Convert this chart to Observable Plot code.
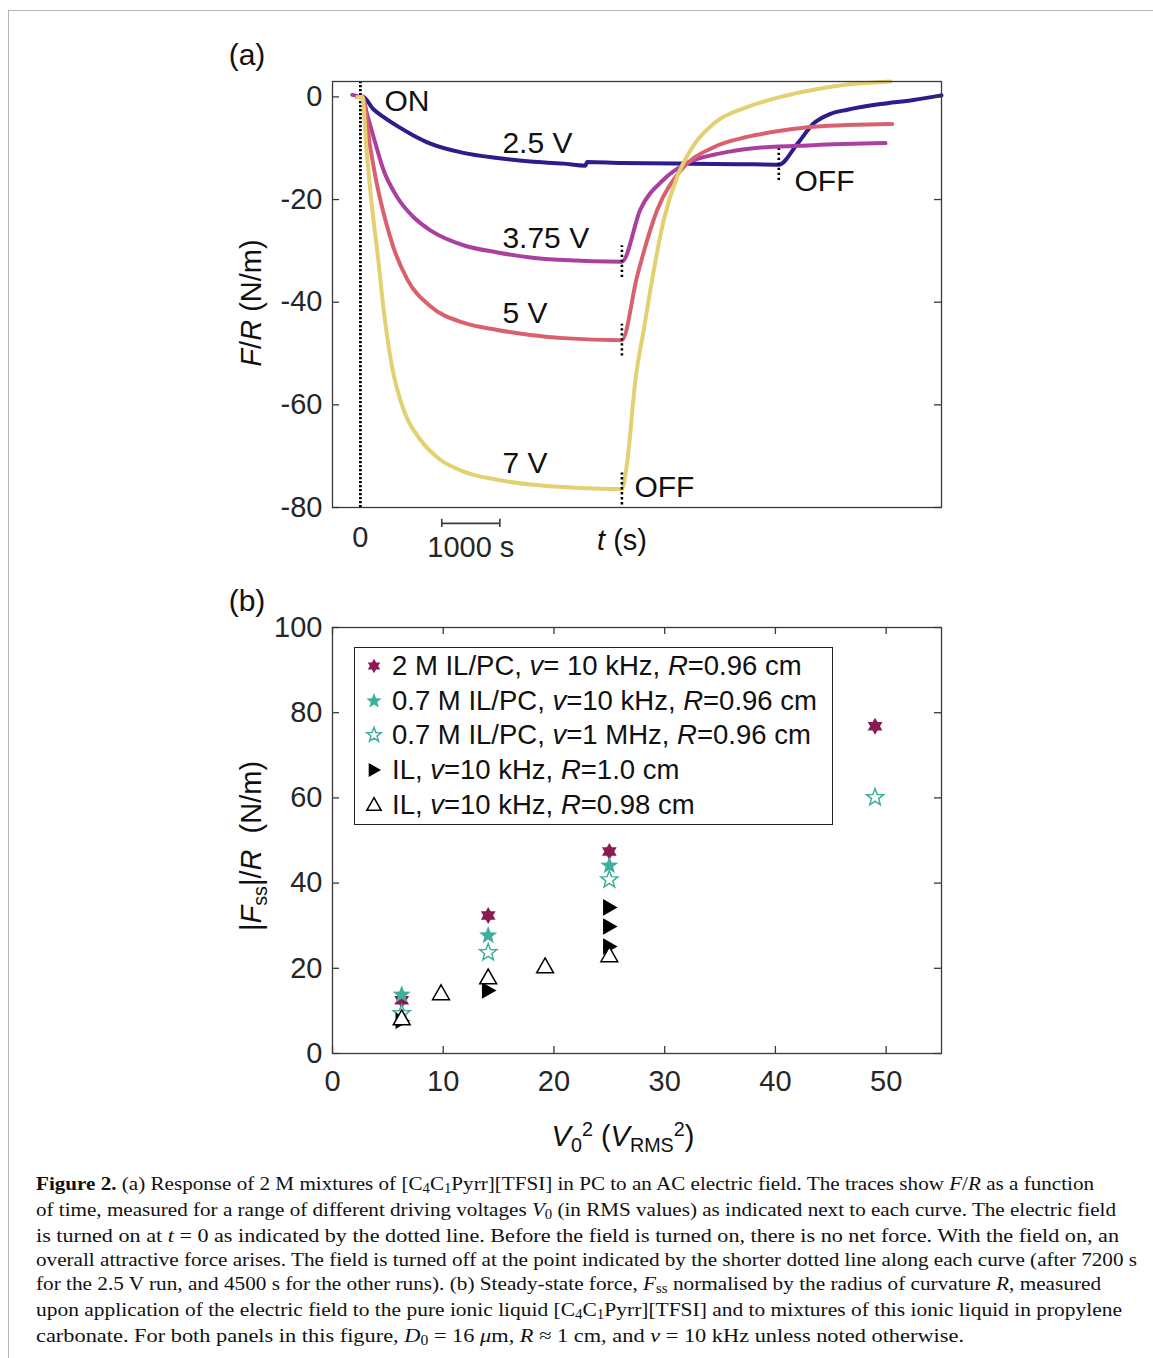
<!DOCTYPE html>
<html><head><meta charset="utf-8">
<script src="https://cdn.jsdelivr.net/npm/d3@7"></script>
<script src="https://cdn.jsdelivr.net/npm/@observablehq/plot@0.6"></script>
<style>
body{margin:0;background:#fff;}
#page{position:relative;width:1153px;height:1358px;overflow:hidden;background:#fff;font-family:"Liberation Sans",Arial,sans-serif;color:#222;}
#border{position:absolute;left:8px;top:10px;width:1145px;height:1348px;border-top:1px solid #b4b4b4;border-left:1px solid #b4b4b4;}
.abs{position:absolute;white-space:nowrap;line-height:1;}
.ctr{transform:translate(-50%,-50%);}
.rot{transform:translate(-50%,-50%) rotate(-90deg);}
.sub{font-size:0.68em;position:relative;top:0.28em;}
.sup{font-size:0.68em;position:relative;top:-0.5em;}
#legend{position:absolute;left:354px;top:647px;width:477px;height:176px;border:1.4px solid #222;background:#fff;}
.lrow{position:absolute;left:0;height:30px;white-space:nowrap;font-size:27.5px;line-height:30px;color:#111;}
.lrow svg{position:absolute;left:6px;top:2px;}
.lrow span{position:absolute;left:37px;top:0;}
#caption{position:absolute;left:36px;top:1172px;font-family:"Liberation Serif","Times New Roman",serif;font-size:19.5px;line-height:24px;color:#111;}
#caption div{white-space:nowrap;}
#caption div span.line{display:inline-block;transform-origin:0 0;}
#caption .cs{font-size:0.7em;position:relative;top:0.25em;}
</style></head>
<body><div id="page"><div id="border"></div></div>
<script>
// ---------- Panel (a) data: F/R (N/m) vs t (s) ----------
const traceSeries = ["2.5 V", "3.75 V", "5 V", "7 V"];
const traceColors = ["#2c1c8c", "#a9409f", "#d9616f", "#e3d070"];

const t_25V = [0, 34, 224, 396, 637, 912, 1205, 1773, 2358, 2926, 3494, 3873, 3900, 4500, 5500, 6500, 7200, 7522, 7797, 8090, 8382, 8950, 9518, 10000];
const F_25V = [0, 0.1, -2.4, -3.9, -5.7, -7.5, -9.1, -10.9, -11.9, -12.6, -13.0, -13.4, -12.7, -12.9, -13.0, -13.1, -13.2, -9.1, -5.2, -3.3, -2.5, -1.4, -0.6, 0.3];

const t_375V = [-140, -60, 0, 34, 115, 229, 396, 637, 912, 1205, 1773, 2358, 2926, 3494, 4500, 4819, 5220, 5622, 6196, 6764, 7797, 9036];
const F_375V = [0.4, 0.2, 0, 0, -3.4, -7.9, -14.2, -19.6, -23.4, -26.0, -28.9, -30.3, -31.3, -31.8, -32.1, -21.9, -16.1, -12.9, -11.0, -10.0, -9.4, -9.0];

const t_5V = [-60, 0, 34, 172, 293, 430, 568, 809, 1205, 1773, 2358, 2926, 3494, 4500, 4761, 5106, 5508, 6081, 6655, 7229, 7803, 9150];
const F_5V = [0, 0, 0, -10.0, -17.5, -24.0, -29.3, -35.6, -40.8, -44.0, -45.4, -46.4, -47.0, -47.4, -35.0, -22.1, -14.4, -9.8, -7.8, -6.6, -5.8, -5.3];

const t_7V = [-50, 0, 34, 103, 172, 241, 300, 401, 545, 745, 1033, 1377, 1778, 2352, 2926, 3494, 4500, 4590, 4733, 4876, 5019, 5220, 5450, 5680, 6081, 6655, 7229, 7803, 8382, 9122];
const F_7V = [0, 0, 0, -10.0, -18.5, -25.5, -31.0, -41.5, -52.6, -61.0, -66.8, -70.7, -73.0, -74.6, -75.5, -76.0, -76.4, -71.3, -55.1, -45.4, -35.7, -24.0, -15.6, -10.4, -5.2, -2.0, 0, 1.4, 2.4, 3.0];

const offT = [7200, 4500, 4500, 4500]; // field switched off (s)
const yTicksA = [-80, -60, -40, -20, 0];
const xTicksA = [0];
const annotText = ["ON", "2.5 V", "3.75 V", "5 V", "7 V", "OFF", "OFF"];
const annotT = [413, 2444, 2444, 2444, 2444, 4716, 7470];
const annotF = [-0.8, -9.1, -27.6, -42.1, -71.5, -76.1, -16.5];
const scaleBarT = [1400, 2400]; // 1000 s scale bar
const scaleBarF = -83.1;
const scaleBarLabel = "1000 s";

// ---------- Panel (b) data: |Fss|/R (N/m) vs V0^2 (V_RMS^2) ----------
const v2_2M = [6.25, 14.06, 25, 49];
const fss_2M = [12.5, 32.4, 47.4, 76.8];
const v2_07M_10k = [6.25, 14.06, 25];
const fss_07M_10k = [13.8, 27.7, 44.1];
const v2_07M_1M = [6.25, 14.06, 25, 49];
const fss_07M_1M = [9.4, 23.7, 40.8, 60.1];
const v2_IL_R10 = [6.25, 14.06, 25, 25, 25];
const fss_IL_R10 = [7.7, 14.8, 34.3, 29.8, 25.1];
const v2_IL_R098 = [6.25, 9.8, 14.06, 19.2, 25];
const fss_IL_R098 = [8.2, 14.1, 17.8, 20.4, 23.0];
const xTicksB = [0, 10, 20, 30, 40, 50];
const yTicksB = [0, 20, 40, 60, 80, 100];
const legendLabels = [
  "2 M IL/PC, <i>v</i>= 10 kHz, <i>R</i>=0.96 cm",
  "0.7 M IL/PC, <i>v</i>=10 kHz, <i>R</i>=0.96 cm",
  "0.7 M IL/PC, <i>v</i>=1 MHz, <i>R</i>=0.96 cm",
  "IL, <i>v</i>=10 kHz, <i>R</i>=1.0 cm",
  "IL, <i>v</i>=10 kHz, <i>R</i>=0.98 cm"
];

// ---------- symbols ----------
function poly(c, pts) { pts.forEach(([x, y], i) => i ? c.lineTo(x, y) : c.moveTo(x, y)); c.closePath(); }
function starPts(n, R, r) { const p = []; for (let i = 0; i < 2 * n; i++) { const a = i * Math.PI / n - Math.PI / 2, rr = i % 2 ? r : R; p.push([rr * Math.cos(a), rr * Math.sin(a)]); } return p; }
const hexagram = {draw(c, s) { const R = Math.sqrt(s / Math.PI); poly(c, starPts(6, R, R / Math.sqrt(3))); }};
const pentagram = {draw(c, s) { const R = Math.sqrt(s / Math.PI); poly(c, starPts(5, R, R * 0.42)); }};
const triUp = {draw(c, s) { const R = Math.sqrt(s / Math.PI); poly(c, [[0, -R], [R * 0.98, R * 0.72], [-R * 0.98, R * 0.72]]); }};
const triRight = {draw(c, s) { const R = Math.sqrt(s / Math.PI); poly(c, [[R, 0], [-R * 0.75, -R], [-R * 0.75, R]]); }};

const c2M = "#8a1a52", cTeal = "#3fae9c";
const pointStyles = [
  {sym: hexagram, r: 8.5, fill: c2M, stroke: "none"},
  {sym: pentagram, r: 9.5, fill: cTeal, stroke: "none"},
  {sym: pentagram, r: 9, fill: "#fff", stroke: cTeal, sw: 1.5},
  {sym: triRight, r: 8.3, fill: "#000", stroke: "none"},
  {sym: triUp, r: 8.6, fill: "#fff", stroke: "#000", sw: 1.5}
];

// ---------- build tables ----------
const tA = [t_25V, t_375V, t_5V, t_7V], fA = [F_25V, F_375V, F_5V, F_7V];
const traces = traceSeries.flatMap((s, i) => tA[i].map((t, j) => ({series: s, t, v: fA[i][j]})));
const offs = traceSeries.map((s, i) => ({series: s, t: offT[i], v: fA[i][tA[i].indexOf(offT[i])]}));
const annots = annotText.map((text, i) => ({text, t: annotT[i], v: annotF[i]}));

const ptsX = [v2_2M, v2_07M_10k, v2_07M_1M, v2_IL_R10, v2_IL_R098];
const ptsY = [fss_2M, fss_07M_10k, fss_07M_1M, fss_IL_R10, fss_IL_R098];
const pointSets = ptsX.map((xs, i) => xs.map((x, j) => ({x, y: ptsY[i][j]})));

const font = "Liberation Sans, Arial, sans-serif";
const axisCol = "#3a3a3a", labCol = "#262626";
const page = document.getElementById("page");

function place(el, top) { el.style.position = "absolute"; el.style.left = "0px"; el.style.top = top + "px"; page.appendChild(el); }

// ---------- Panel (a) ----------
const W = 1153, frameW = 609, frameH = 426;
const plotA = Plot.plot({
  width: W, height: 570, marginLeft: 332, marginRight: 212, marginTop: 81, marginBottom: 63,
  x: {domain: [-480, 10000], axis: null},
  y: {domain: [-80, 3], axis: null},
  color: {domain: traceSeries, range: traceColors},
  style: {fontFamily: font, fontSize: "29px", background: "transparent", overflow: "visible", color: labCol},
  marks: [
    Plot.ruleX(xTicksA, {stroke: "#000", strokeWidth: 2.8, strokeDasharray: "2.2,1.8"}),
    Plot.line(traces, {x: "t", y: "v", z: "series", stroke: "series", strokeWidth: 4, curve: "monotone-x", strokeLinejoin: "round"}),
    Plot.ruleX(offs, {x: "t", y1: d => d.v - 3.1, y2: d => d.v + 3.1, stroke: "#000", strokeWidth: 2.6, strokeDasharray: "2.4,2.6"}),
    Plot.frame({stroke: axisCol, strokeWidth: 1.3}),
    Plot.tickY(yTicksA, {y: d => d, insetRight: frameW - 7, stroke: axisCol, strokeWidth: 1.3}),
    Plot.tickY(yTicksA, {y: d => d, insetLeft: frameW - 7, stroke: axisCol, strokeWidth: 1.3}),
    Plot.axisY({ticks: yTicksA, tickSize: 0, tickPadding: 10, label: null, tickFormat: d => String(d), fontSize: 29, fill: labCol}),
    Plot.axisX({ticks: xTicksA, tickSize: 0, tickPadding: 19, label: null, tickFormat: d => String(d), fontSize: 29, fill: labCol}),
    Plot.ruleY([scaleBarF], {x1: scaleBarT[0], x2: scaleBarT[1], stroke: axisCol, strokeWidth: 1.6}),
    Plot.ruleX(scaleBarT, {y1: scaleBarF - 0.8, y2: scaleBarF + 0.8, stroke: axisCol, strokeWidth: 1.6}),
    Plot.text([scaleBarLabel], {x: (scaleBarT[0] + scaleBarT[1]) / 2, y: scaleBarF - 4.8, text: d => d, fontSize: 29, fill: labCol}),
    Plot.text(annots, {x: "t", y: "v", text: "text", textAnchor: "start", fontSize: 30, fill: "#111"})
  ]
});
place(plotA, 0);

// ---------- Panel (b) ----------
const plotB = Plot.plot({
  width: W, height: 530, marginLeft: 332, marginRight: 212, marginTop: 47, marginBottom: 57,
  x: {domain: [0, 55], axis: null},
  y: {domain: [0, 100], axis: null},
  style: {fontFamily: font, fontSize: "29px", background: "transparent", overflow: "visible", color: labCol},
  marks: [
    Plot.frame({stroke: axisCol, strokeWidth: 1.3}),
    Plot.tickY(yTicksB, {y: d => d, insetRight: frameW - 7, stroke: axisCol, strokeWidth: 1.3}),
    Plot.tickY(yTicksB, {y: d => d, insetLeft: frameW - 7, stroke: axisCol, strokeWidth: 1.3}),
    Plot.tickX(xTicksB, {x: d => d, insetTop: frameH - 7, stroke: axisCol, strokeWidth: 1.3}),
    Plot.tickX(xTicksB, {x: d => d, insetBottom: frameH - 7, stroke: axisCol, strokeWidth: 1.3}),
    Plot.axisY({ticks: yTicksB, tickSize: 0, tickPadding: 10, label: null, tickFormat: d => String(d), fontSize: 29, fill: labCol}),
    Plot.axisX({ticks: xTicksB, tickSize: 0, tickPadding: 17, label: null, tickFormat: d => String(d), fontSize: 29, fill: labCol}),
    ...pointSets.map((pts, i) => Plot.dot(pts, {x: "x", y: "y", symbol: pointStyles[i].sym, r: pointStyles[i].r,
      fill: pointStyles[i].fill, stroke: pointStyles[i].stroke, strokeWidth: pointStyles[i].sw || 0}))
  ]
});
place(plotB, 580);

// ---------- HTML text ----------
function label(html, x, y, size, cls, extra) {
  const d = document.createElement("div");
  d.className = "abs " + cls;
  d.style.left = x + "px"; d.style.top = y + "px"; d.style.fontSize = size + "px";
  d.style.color = "#111";
  if (extra) Object.assign(d.style, extra);
  d.innerHTML = html;
  page.appendChild(d);
  return d;
}
label("(a)", 247, 55, 30, "ctr");
label("(b)", 247, 601, 30, "ctr");
label("<i>F</i>/<i>R</i> (N/m)", 251, 303, 29, "rot");
label("|<i>F</i><span class='sub'>ss</span>|/<i>R</i>&nbsp; (N/m)", 251, 846, 29, "rot");
label("<i>t</i> (s)", 622, 540, 29, "ctr");
label("<i>V</i><span class='sub'>0</span><span class='sup'>2</span> (<i>V</i><span class='sub'>RMS</span><span class='sup'>2</span>)", 623, 1136, 29, "ctr");

// legend
const leg = document.createElement("div"); leg.id = "legend"; page.appendChild(leg);
function symPath(sym, r) { const p = d3.path(); sym.draw(p, r * r * Math.PI); return p.toString(); }
legendLabels.forEach((txt, i) => {
  const row = document.createElement("div"); row.className = "lrow";
  row.style.top = (3 + i * 34.7) + "px";
  const st = pointStyles[i];
  const r = st.r * 0.85;
  row.innerHTML = `<svg width="26" height="26" viewBox="-13 -13 26 26"><path d="${symPath(st.sym, r)}" fill="${st.fill}" stroke="${st.stroke}" stroke-width="${st.sw || 0}"/></svg><span>${txt}</span>`;
  leg.appendChild(row);
});

// caption
const capLines = [
  "<b>Figure 2.</b> (a) Response of 2 M mixtures of [C<span class='cs'>4</span>C<span class='cs'>1</span>Pyrr][TFSI] in PC to an AC electric field. The traces show <i>F</i>/<i>R</i> as a function",
  "of time, measured for a range of different driving voltages <i>V</i><span class='cs'>0</span> (in RMS values) as indicated next to each curve. The electric field",
  "is turned on at <i>t</i> = 0 as indicated by the dotted line. Before the field is turned on, there is no net force. With the field on, an",
  "overall attractive force arises. The field is turned off at the point indicated by the shorter dotted line along each curve (after 7200 s",
  "for the 2.5 V run, and 4500 s for the other runs). (b) Steady-state force, <i>F</i><span class='cs'>ss</span> normalised by the radius of curvature <i>R</i>, measured",
  "upon application of the electric field to the pure ionic liquid [C<span class='cs'>4</span>C<span class='cs'>1</span>Pyrr][TFSI] and to mixtures of this ionic liquid in propylene",
  "carbonate. For both panels in this figure, <i>D</i><span class='cs'>0</span> = 16 <i>μ</i>m, <i>R</i> ≈ 1 cm, and <i>ν</i> = 10 kHz unless noted otherwise."
];
const capRight = [1094, 1116, 1119, 1137, 1101, 1122, 964];
const cap = document.createElement("div"); cap.id = "caption"; page.appendChild(cap);
capLines.forEach((html, i) => {
  const d = document.createElement("div");
  d.innerHTML = `<span class="line">${html}</span>`;
  cap.appendChild(d);
  const sp = d.firstChild;
  const w = sp.getBoundingClientRect().width;
  const target = capRight[i] - 36;
  sp.style.transform = `scaleX(${target / w})`;
});
</script>
</body></html>
